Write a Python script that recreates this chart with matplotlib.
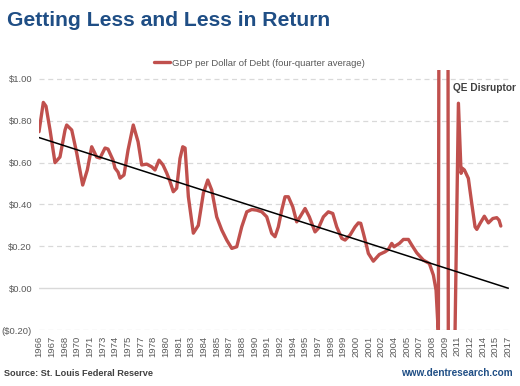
import matplotlib
matplotlib.use("Agg")
import matplotlib.pyplot as plt
import numpy as np

plt.rcParams['font.family'] = ['Liberation Sans', 'DejaVu Sans']

# GDP per dollar of debt (x in years, y in dollars)
years = [1966.00, 1966.47, 1966.76, 1967.20, 1967.74, 1968.28, 1968.83, 1969.01, 1969.56,
         1970.10, 1970.75, 1971.25, 1971.73, 1972.27, 1972.63, 1973.18, 1973.50, 1974.05,
         1974.26, 1974.59, 1974.81, 1975.24, 1975.68, 1976.25, 1976.77, 1977.17, 1977.71,
         1978.26, 1978.61, 1979.05, 1979.48, 1979.89, 1980.25, 1980.60, 1980.97, 1981.33,
         1981.63, 1981.88, 1982.24, 1982.78, 1983.32, 1983.87, 1984.35, 1984.78, 1985.32,
         1985.87, 1986.41, 1986.96, 1987.50, 1988.04, 1988.59, 1989.13, 1989.67, 1990.22,
         1990.76, 1991.30, 1991.66, 1992.02, 1992.39, 1992.75, 1993.11, 1993.59, 1994.02,
         1994.38, 1994.93, 1995.39, 1996.01, 1996.37, 1996.92, 1997.46, 1997.94, 1998.37,
         1998.92, 1999.28, 1999.82, 2000.36, 2000.72, 2000.98, 2001.27, 2001.64, 2001.81,
         2002.35, 2003.00, 2003.63, 2003.98, 2004.35, 2004.60, 2005.18, 2005.62, 2006.16,
         2006.53, 2007.07, 2007.79, 2008.44, 2008.88, 2009.17, 2009.42, 2009.55, 2010.43,
         2010.56, 2010.97, 2011.17, 2011.60, 2011.89, 2012.03, 2012.25, 2012.68, 2013.05,
         2013.41, 2013.60, 2013.96, 2014.42, 2014.86, 2015.34, 2015.77, 2016.02, 2016.21]
gdp_per_debt = [0.748, 0.888, 0.870, 0.756, 0.600, 0.627, 0.756, 0.780, 0.756,
                0.646, 0.493, 0.565, 0.676, 0.627, 0.622, 0.670, 0.665, 0.612,
                0.574, 0.555, 0.526, 0.541, 0.660, 0.780, 0.700, 0.589, 0.593,
                0.580, 0.565, 0.612, 0.589, 0.550, 0.509, 0.461, 0.478, 0.620,
                0.676, 0.670, 0.437, 0.263, 0.300, 0.454, 0.517, 0.469, 0.341,
                0.278, 0.230, 0.190, 0.198, 0.293, 0.365, 0.376, 0.373, 0.365,
                0.341, 0.262, 0.246, 0.293, 0.373, 0.437, 0.437, 0.389, 0.317,
                0.341, 0.381, 0.341, 0.269, 0.286, 0.341, 0.365, 0.357, 0.293,
                0.238, 0.230, 0.254, 0.293, 0.312, 0.310, 0.262, 0.198, 0.166,
                0.129, 0.161, 0.174, 0.185, 0.214, 0.198, 0.214, 0.233, 0.233,
                0.206, 0.169, 0.134, 0.118, 0.062, -0.010, -0.220, 3.000, 3.000,
                -3.000, -3.000, -0.400, 0.884, 0.549, 0.573, 0.565, 0.525, 0.405,
                0.293, 0.281, 0.310, 0.344, 0.312, 0.333, 0.337, 0.325, 0.297]

# linear trend drawn on the chart
trend_years = [1966, 2017]
trend_vals = [0.72, 0.0]

tick_labels = ['1966', '1967', '1968', '1970', '1971', '1973', '1974', '1975', '1977', '1978',
               '1980', '1981', '1983', '1984', '1985', '1987', '1988', '1990', '1991', '1992',
               '1994', '1995', '1997', '1998', '1999', '2000', '2001', '2002', '2004', '2005',
               '2007', '2008', '2009', '2011', '2012', '2014', '2015', '2017']
y_ticks = [-0.2, 0.0, 0.2, 0.4, 0.6, 0.8, 1.0]
y_labels = ['($0.20)', '$0.00', '$0.20', '$0.40', '$0.60', '$0.80', '$1.00']

red = '#C0504D'
navy = '#1F4E85'
grey = '#595959'

fig = plt.figure(figsize=(5.2, 3.86), dpi=100)
ax = fig.add_axes([39 / 520, 1 - 330 / 386, 470 / 520, 260 / 386])

ax.plot(years, gdp_per_debt, color=red, lw=2.4, solid_joinstyle='round',
        solid_capstyle='round', label='GDP per Dollar of Debt (four-quarter average)', zorder=3)
ax.plot(trend_years, trend_vals, color='black', lw=1.1, zorder=4)

ax.set_xlim(1966, 2017.1)
ax.set_ylim(-0.2, 1.043)
ax.set_yticks(y_ticks)
ax.set_yticklabels(y_labels)
ax.set_xticks(np.linspace(1966, 2017, len(tick_labels)))
ax.set_xticklabels(tick_labels, rotation=90)
ax.tick_params(axis='both', length=0, colors=grey, labelsize=6.8)
ax.tick_params(axis='y', pad=5)
ax.tick_params(axis='x', pad=4)

for v in y_ticks:
    if v == 0:
        ax.axhline(v, color='#D9D9D9', lw=1, zorder=1)
    else:
        ax.axhline(v, color='#D9D9D9', lw=0.9, ls=(0, (4, 3)), zorder=1)
for s in ax.spines.values():
    s.set_visible(False)

fig.text(7 / 520, 1 - 21 / 386, 'Getting Less and Less in Return', color=navy,
         fontsize=15.2, fontweight='bold', va='center', ha='left')
fig.legend(loc='center', bbox_to_anchor=(259 / 520, 1 - 63 / 386), frameon=False,
           fontsize=6.8, handlelength=1.7, handletextpad=0.2, labelcolor=grey)
ax.text(453 / 520, 1 - 88 / 386, 'QE Disruptor', transform=fig.transFigure,
        fontsize=7.3, fontweight='bold', color='#404040', va='center', ha='left')
fig.text(4 / 520, 1 - 373 / 386, 'Source: St. Louis Federal Reserve', fontsize=6.6,
         fontweight='bold', color='#404040', va='center', ha='left')
fig.text(513 / 520, 1 - 373 / 386, 'www.dentresearch.com', fontsize=7.2,
         fontweight='bold', color=navy, va='center', ha='right')

plt.savefig('out.png', dpi=100)
